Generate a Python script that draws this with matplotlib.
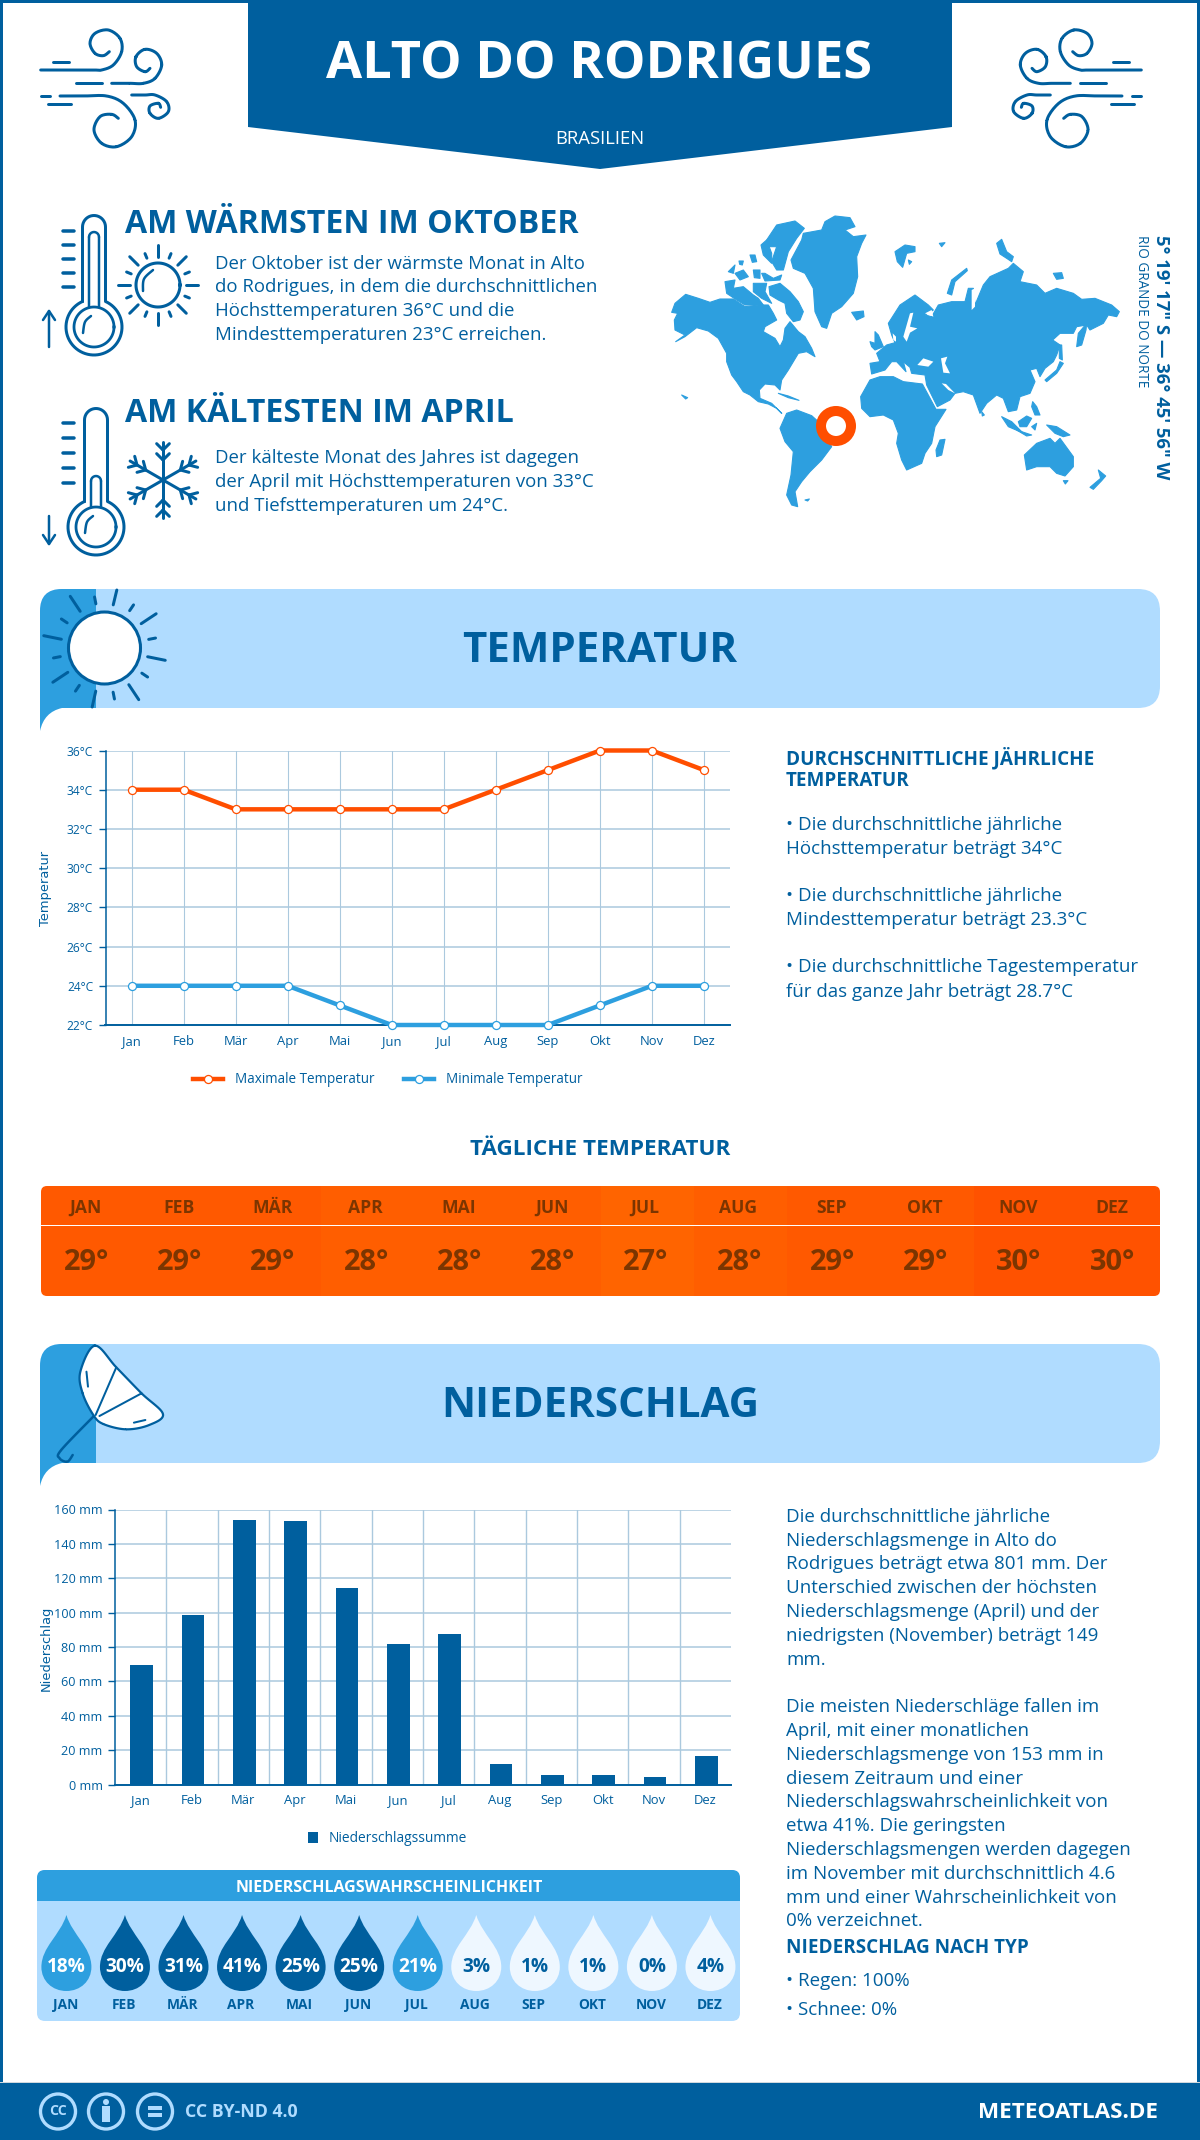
import numpy as np
import matplotlib
matplotlib.use('Agg')
from matplotlib import pyplot as plt
from matplotlib import patches as mp
from matplotlib.path import Path

plt.rcParams['font.family'] = ['Open Sans', 'DejaVu Sans']

W = 1200
H = 2140
BLUE = '#005f9e'
MID = '#2d9fdf'
LIGHT = '#b0dcff'
RED = '#ff4e00'
GRID = '#abc9de'
BROWN = '#7c3500'

months = ['Jan', 'Feb', 'Mär', 'Apr', 'Mai', 'Jun', 'Jul', 'Aug', 'Sep', 'Okt', 'Nov', 'Dez']
months_upper = ['JAN', 'FEB', 'MÄR', 'APR', 'MAI', 'JUN', 'JUL', 'AUG', 'SEP', 'OKT', 'NOV', 'DEZ']
temp_max = [34, 34, 33, 33, 33, 33, 33, 34, 35, 36, 36, 35]
temp_min = [24, 24, 24, 24, 23, 22, 22, 22, 22, 23, 24, 24]
temp_ticks = [22, 24, 26, 28, 30, 32, 34, 36]
daily_temp = [29, 29, 29, 28, 28, 28, 27, 28, 29, 29, 30, 30]
daily_colors = {27: '#ff6400', 28: '#ff5e00', 29: '#ff5900', 30: '#ff5200'}
precip = [69.4, 98.5, 153.8, 153.2, 114.2, 81.7, 87.5, 11.8, 5.4, 5.4, 4.6, 16.5]
precip_ticks = [0, 20, 40, 60, 80, 100, 120, 140, 160]
rain_prob = [18, 30, 31, 41, 25, 25, 21, 3, 1, 1, 0, 4]

warm_text = ['Der Oktober ist der wärmste Monat in Alto',
             'do Rodrigues, in dem die durchschnittlichen',
             'Höchsttemperaturen 36°C und die',
             'Mindesttemperaturen 23°C erreichen.']
cold_text = ['Der kälteste Monat des Jahres ist dagegen',
             'der April mit Höchsttemperaturen von 33°C',
             'und Tiefsttemperaturen um 24°C.']
temp_notes = [('• Die durchschnittliche jährliche', 823.5),
              ('Höchsttemperatur beträgt 34°C', 847),
              ('• Die durchschnittliche jährliche', 894.5),
              ('Mindesttemperatur beträgt 23.3°C', 918.5),
              ('• Die durchschnittliche Tagestemperatur', 965.5),
              ('für das ganze Jahr beträgt 28.7°C', 990)]
precip_notes = ['Die durchschnittliche jährliche',
                'Niederschlagsmenge in Alto do',
                'Rodrigues beträgt etwa 801 mm. Der',
                'Unterschied zwischen der höchsten',
                'Niederschlagsmenge (April) und der',
                'niedrigsten (November) beträgt 149',
                'mm.',
                '',
                'Die meisten Niederschläge fallen im',
                'April, mit einer monatlichen',
                'Niederschlagsmenge von 153 mm in',
                'diesem Zeitraum und einer',
                'Niederschlagswahrscheinlichkeit von',
                'etwa 41%. Die geringsten',
                'Niederschlagsmengen werden dagegen',
                'im November mit durchschnittlich 4.6',
                'mm und einer Wahrscheinlichkeit von',
                '0% verzeichnet.']

fig = plt.figure(figsize=(12, 21.4), dpi=100, facecolor='white')
bg = fig.add_axes([0, 0, 1, 1])
bg.set_xlim(0, W)
bg.set_ylim(H, 0)
bg.axis('off')


def fs(px):
    return px * 0.72


def label(x, y, s, px, color=BLUE, weight='normal', ha='left', **kw):
    # va center sits above the caps centre, push it down a bit
    bg.text(x, y + 0.1 * px, s, fontsize=fs(px), color=color, fontweight=weight, ha=ha, va='center', **kw)


def poly(points, color, edge='none', **kw):
    bg.add_patch(mp.Polygon(points, closed=True, facecolor=color, edgecolor=edge, **kw))


def stroke(points, lw=2.5, color=BLUE, **kw):
    pts = np.array(points, dtype=float)
    bg.plot(pts[:, 0], pts[:, 1], color=color, lw=lw * 0.72, solid_capstyle='round', **kw)


def spline(points, closed=False):
    # catmull-rom through the traced icon points
    p = np.array(points, dtype=float)
    if closed:
        p = np.vstack([p[-1], p, p[0], p[1]])
    else:
        p = np.vstack([p[0], p, p[-1]])
    out = []
    for i in range(1, len(p) - 2):
        for t in np.linspace(0, 1, 12):
            out.append(0.5 * (2 * p[i] + (p[i + 1] - p[i - 1]) * t
                              + (2 * p[i - 1] - 5 * p[i] + 4 * p[i + 1] - p[i + 2]) * t ** 2
                              + (3 * p[i] - p[i - 1] - 3 * p[i + 1] + p[i + 2]) * t ** 3))
    return out


def smooth(points, lw=2.5, color=BLUE):
    stroke(spline(points), lw, color)


def rounded(x0, y0, x1, y1, r, color):
    box = mp.FancyBboxPatch((x0, y0), x1 - x0, y1 - y0, boxstyle=f'round,pad=0,rounding_size={r}',
                            facecolor=color, edgecolor='none')
    bg.add_patch(box)
    return box


# frame, banner, footer
bg.add_patch(mp.Rectangle((0, 0), W, 3, color=BLUE, lw=0))
bg.add_patch(mp.Rectangle((0, 0), 3, H, color=BLUE, lw=0))
bg.add_patch(mp.Rectangle((W - 3, 0), 3, H, color=BLUE, lw=0))
poly([(248, 0), (952, 0), (952, 127), (600, 169), (248, 127)], BLUE)
label(599, 60, 'ALTO DO RODRIGUES', 52.4, 'white', 'bold', ha='center')
label(600, 137, 'BRASILIEN', 18.5, 'white', ha='center')
bg.add_patch(mp.Rectangle((0, 2082), W, 1.5, color='#d0d8de', lw=0))
bg.add_patch(mp.Rectangle((0, 2083), W, 57, color=BLUE, lw=0))


# wind icons, traced on the left one, mirrored for the right one
def wind(mirror):
    def conv(pts):
        res = [(30 + x / 3, 20 + y / 3) for x, y in pts]
        if mirror:
            res = [(1182 - x, y) for x, y in res]
        return res
    smooth(conv([(32, 150), (100, 150), (190, 150), (215, 150), (250, 135), (275, 95), (270, 55), (235, 30), (195, 40), (180, 70), (195, 100), (220, 107), (238, 95)]), 3)
    smooth(conv([(245, 190), (300, 190), (340, 190), (375, 175), (395, 135), (380, 100), (345, 88), (318, 110), (320, 140), (345, 155), (360, 145)]), 3)
    smooth(conv([(90, 228), (160, 228), (230, 228), (280, 250), (315, 300), (305, 350), (260, 380), (215, 370), (192, 330), (210, 290), (245, 283), (265, 295)]), 3)
    smooth(conv([(305, 225), (345, 225), (375, 225), (410, 245), (415, 275), (385, 295), (360, 280), (360, 258), (385, 250), (392, 262)]), 3)
    for seg in ([(68, 125), (118, 125)], [(138, 190), (215, 190)], [(32, 228), (60, 228)], [(55, 253), (123, 253)]):
        stroke(conv(seg), 3)


wind(False)
wind(True)


def thermometer(x, top, bulb_y, tick_ys, level_top):
    r = 28
    t = np.linspace(0, 2 * np.pi, 80)
    gap = np.arcsin(11.5 / r)
    a = np.linspace(-np.pi / 2 + gap, 1.5 * np.pi - gap, 60)
    outer = [(x - 11.5, bulb_y - r * np.cos(gap))] + [(x - 11.5, top + 11)]
    outer += [(x + 11.5 * np.cos(u), top + 11 + 11.5 * np.sin(u)) for u in np.linspace(np.pi, 2 * np.pi, 20)]
    outer += [(x + r * np.cos(u), bulb_y + r * np.sin(u)) for u in a]
    outer += [(x - 11.5, bulb_y - r * np.cos(gap))]
    stroke(outer, 3)
    bg.plot(x + 20 * np.cos(t), bulb_y + 20 * np.sin(t), color=BLUE, lw=2)
    stroke([(x - 5, bulb_y - 20), (x - 5, level_top + 5)], 2.5)
    stroke([(x + 5, bulb_y - 20), (x + 5, level_top + 5)], 2.5)
    stroke([(x + 5 * np.cos(u), level_top + 5 + 5 * np.sin(u)) for u in np.linspace(np.pi, 2 * np.pi, 10)], 2.5)
    smooth([(x - 11, bulb_y + 6), (x - 9, bulb_y - 5), (x - 3, bulb_y - 11)], 2.5)
    for ty in tick_ys:
        stroke([(63, ty), (74, ty)], 3.5)


thermometer(94, 216, 327, [231, 245, 259, 273, 287], 232)
stroke([(49, 347), (49, 311)], 2.5)
stroke([(43, 320), (49, 311), (55, 320)], 2.5)
thermometer(96, 409, 527, [423, 438, 453, 468, 483], 476)
stroke([(49, 516), (49, 544)], 2.5)
stroke([(43, 535), (49, 544), (55, 535)], 2.5)

# small sun
sun_t = np.linspace(0, 2 * np.pi, 80)
bg.plot(158 + 22 * np.cos(sun_t), 285 + 22 * np.sin(sun_t), color=BLUE, lw=2.2)
smooth([(143, 291), (144, 279), (153, 270)], 2.5)
for k in range(16):
    ang = k * np.pi / 8
    r1, r2 = (28, 40) if k % 2 == 0 else (29, 34)
    stroke([(158 + r1 * np.cos(ang), 285 + r1 * np.sin(ang)), (158 + r2 * np.cos(ang), 285 + r2 * np.sin(ang))], 3)

# snowflake
for k in range(6):
    ang = k * np.pi / 3 + np.pi / 2
    ca, sa = np.cos(ang), np.sin(ang)
    stroke([(163, 480), (163 + 38 * ca, 480 + 38 * sa)], 3)
    for d in (20, 30):
        for side in (-1, 1):
            b = ang + side * np.pi / 4
            stroke([(163 + d * ca, 480 + d * sa), (163 + d * ca + 9 * np.cos(b), 480 + d * sa + 9 * np.sin(b))], 3)

label(125, 221, 'AM WÄRMSTEN IM OKTOBER', 32.2, weight='bold')
label(125, 410, 'AM KÄLTESTEN IM APRIL', 32.2, weight='bold')
for line, y in zip(warm_text, [262, 285.5, 309.5, 333.5]):
    label(215, y, line, 18.7)
for line, y in zip(cold_text, [456.5, 480.5, 504]):
    label(215, y, line, 18.7)

# world map, traced by hand
west_land = [
    [(20, 322), (30, 295), (62, 268), (100, 280), (135, 292), (165, 282), (205, 282), (240, 305), (280, 300), (310, 300), (325, 325), (335, 345), (300, 365), (295, 380), (330, 400), (345, 425), (355, 405), (360, 370), (375, 350), (400, 380), (420, 395), (440, 430), (450, 455), (425, 440), (400, 445), (385, 470), (370, 495), (350, 525), (345, 555), (330, 540), (300, 537), (283, 555), (285, 580), (320, 595), (350, 625), (335, 610), (310, 597), (280, 590), (255, 570), (235, 560), (215, 530), (200, 510), (185, 470), (185, 445), (160, 400), (130, 378), (95, 368), (60, 395), (32, 410), (60, 390), (30, 375), (28, 345), (38, 325)],
    [(312, 245), (345, 235), (375, 260), (400, 290), (415, 320), (405, 345), (385, 350), (365, 325), (360, 295), (340, 285), (315, 270)],
    [(180, 230), (210, 225), (205, 250), (235, 245), (265, 270), (280, 280), (295, 300), (240, 300), (215, 285), (185, 265)],
    [(265, 235), (305, 235), (300, 260), (320, 295), (290, 280), (265, 260)],
    [(190, 200), (210, 180), (205, 205)],
    [(210, 205), (235, 195), (250, 215), (225, 225)],
    [(265, 195), (285, 195), (285, 220), (268, 218)],
    [(290, 205), (300, 205), (325, 220), (350, 210), (345, 225), (300, 228)],
    [(255, 150), (270, 150), (275, 170), (262, 172)],
    [(222, 168), (235, 168), (232, 180), (224, 178)],
    [(305, 105), (335, 60), (390, 48), (418, 70), (395, 100), (370, 140), (355, 195), (335, 195), (320, 170), (335, 125), (310, 125)],
    [(288, 120), (305, 105), (320, 145), (320, 175), (295, 150)],
    [(378, 165), (410, 105), (415, 85), (470, 75), (480, 50), (510, 33), (555, 38), (570, 65), (540, 75), (565, 95), (603, 90), (590, 115), (575, 155), (578, 215), (565, 265), (530, 305), (500, 325), (485, 370), (470, 365), (450, 320), (445, 250), (420, 205), (385, 190)],
    [(560, 322), (595, 318), (597, 335), (575, 345)],
    [(345, 670), (365, 625), (395, 615), (440, 632), (460, 650), (500, 725), (470, 765), (435, 800), (410, 830), (390, 860), (398, 905), (380, 900), (365, 870), (378, 810), (385, 740), (360, 710)],
    [(420, 885), (433, 882), (428, 888)],
    [(50, 570), (68, 578), (62, 582)],
    [(340, 565), (370, 573), (402, 586), (370, 578)],
]
east_land = [
    [(105, 65), (135, 45), (165, 50), (165, 65), (140, 70), (128, 112), (112, 95)],
    [(238, 40), (255, 38), (245, 50)],
    [(145, 90), (155, 95), (148, 103)],
    [(410, 40), (425, 28), (440, 65), (460, 80), (455, 95), (440, 85), (420, 72)],
    [(262, 190), (275, 150), (320, 115), (322, 122), (285, 155), (275, 195)],
    [(580, 130), (605, 128), (610, 145), (590, 148)],
    [(30, 400), (60, 395), (50, 370), (80, 345), (105, 338), (95, 315), (85, 280), (120, 225), (165, 195), (205, 225), (220, 240), (195, 255), (215, 260), (235, 225), (275, 215), (315, 215), (325, 175), (340, 175), (345, 225), (370, 165), (390, 140), (445, 115), (460, 100), (490, 125), (480, 155), (530, 165), (555, 190), (590, 175), (640, 190), (665, 208), (705, 205), (755, 225), (778, 245), (770, 260), (745, 255), (730, 280), (690, 300), (680, 285), (650, 290), (640, 310), (600, 310), (578, 330), (600, 345), (590, 375), (580, 395), (555, 415), (540, 440), (530, 415), (510, 420), (525, 455), (510, 490), (480, 500), (470, 540), (445, 545), (430, 505), (410, 495), (380, 520), (360, 550), (340, 495), (310, 485), (285, 490), (270, 510), (232, 530), (200, 465), (195, 435), (155, 430), (150, 412), (130, 395), (138, 425), (110, 395), (95, 395), (75, 420), (35, 432)],
    [(2, 500), (30, 450), (60, 440), (100, 440), (130, 455), (187, 462), (228, 538), (258, 538), (225, 590), (215, 640), (195, 670), (185, 700), (140, 720), (125, 690), (110, 640), (115, 610), (100, 570), (70, 555), (30, 560), (5, 535)],
    [(240, 630), (255, 628), (245, 675), (230, 680), (228, 660)],
    [(650, 350), (655, 310), (680, 280), (678, 300), (665, 345)],
    [(555, 450), (590, 420), (600, 395), (610, 400), (590, 430), (560, 455)],
    [(598, 345), (605, 345), (607, 390), (598, 385)],
    [(45, 305), (55, 315), (70, 350), (45, 360), (35, 350), (30, 335), (45, 340)],
    [(365, 545), (373, 555), (367, 558)],
    [(425, 560), (455, 575), (490, 610), (480, 605), (445, 590)],
    [(470, 600), (515, 615), (500, 618)],
    [(475, 575), (500, 558), (515, 565), (500, 590), (480, 590)],
    [(515, 590), (530, 580), (525, 600)],
    [(518, 515), (530, 530), (540, 555), (525, 555), (515, 530)],
    [(560, 585), (590, 590), (630, 615), (610, 620), (585, 610)],
    [(493, 675), (530, 640), (570, 625), (585, 640), (600, 625), (640, 680), (640, 710), (615, 738), (590, 730), (570, 710), (530, 710), (500, 720)],
    [(610, 752), (624, 752), (616, 762)],
    [(715, 720), (737, 738), (725, 752), (700, 778), (690, 772), (722, 745)],
]
east_water = [
    [(172, 405), (190, 385), (220, 395), (205, 410)],
    [(243, 385), (262, 380), (255, 400), (270, 430), (250, 428)],
    [(130, 320), (150, 250), (160, 248), (150, 290), (172, 295), (150, 308), (140, 335)],
    [(195, 250), (215, 240), (220, 260)],
    [(245, 460), (258, 462), (285, 490), (265, 480)],
    [(335, 180), (345, 175), (345, 230), (335, 240)],
    [(98, 310), (108, 320), (108, 335), (100, 330)],
]
for shape in west_land:
    poly([(665 + x / 3, 205 + y / 3) for x, y in shape], MID, edge=MID, lw=0.8, joinstyle='round')
for shape in east_land:
    poly([(860 + x / 3, 230 + y / 3) for x, y in shape], MID, edge=MID, lw=0.8, joinstyle='round')
for shape in east_water:
    poly([(860 + x / 3, 230 + y / 3) for x, y in shape], 'white')
bg.add_patch(mp.Circle((836, 426), 15, facecolor='white', edgecolor=RED, lw=10 * 0.72))
bg.text(1161, 235, '5° 19\' 17" S — 36° 45\' 56" W', fontsize=fs(18.5), color=BLUE, fontweight='bold',
        rotation=270, ha='center', va='top')
bg.text(1141, 235, 'RIO GRANDE DO NORTE', fontsize=fs(13.5), color=BLUE, rotation=270, ha='center', va='top')


def section_header(top, bottom, title):
    rounded(40, top, 1160, bottom, 22, LIGHT)
    verts = [(96, top), (62, top), (40, top), (40, top + 22), (40, bottom + 23), (44, bottom + 4), (62, bottom), (96, bottom), (96, top)]
    codes = [Path.MOVETO, Path.LINETO, Path.CURVE3, Path.CURVE3, Path.LINETO, Path.CURVE3, Path.CURVE3, Path.LINETO, Path.CLOSEPOLY]
    bg.add_patch(mp.PathPatch(Path(verts, codes), facecolor=MID, edgecolor='none'))
    label(600, (top + bottom) / 2 - 1, title, 42, weight='bold', ha='center')


section_header(589, 708, 'TEMPERATUR')
section_header(1344, 1463, 'NIEDERSCHLAG')

# header sun
bg.add_patch(mp.Circle((104.5, 648), 36, facecolor='white', edgecolor=BLUE, lw=2.2, zorder=3))
smooth([(83, 626), (90, 621), (101, 618)], 2.5)
smooth([(101, 679), (112, 678), (122, 673)], 2.5)
for k in range(16):
    ang = k * np.pi / 8 + 0.2
    r1, r2 = (44, 62) if k % 2 == 0 else (45, 52)
    x1, y1 = 104.5 + r1 * np.cos(ang), 648 + r1 * np.sin(ang)
    x2, y2 = 104.5 + r2 * np.cos(ang), 648 + r2 * np.sin(ang)
    stroke([(x1, y1), (x2, np.clip(y2, 590, 707))], 3)

# umbrella
u_pts = [(124, 677), (152, 742), (185, 820), (213, 882), (195, 915), (165, 928), (135, 912), (122, 885), (108, 820), (105, 755)]
u_real = spline([(x / 1.307, 1120 + y / 3) for x, y in u_pts], closed=True)
poly(u_real, 'white', zorder=3)
bg.plot(*zip(*(u_real + u_real[:1])), color=BLUE, lw=1.6, zorder=4)
stem = [(124, 885), (80, 990), (78, 1015), (88, 1025), (95, 1005)]
smooth([(x / 1.307, 1120 + y / 3) for x, y in stem], 2.5)
for seg in ([(152, 742), (125, 885)], [(185, 820), (130, 888)], [(113, 755), (115, 800)], [(175, 908), (190, 900)]):
    stroke([(x / 1.307, 1120 + y / 3) for x, y in seg], 2, zorder=4)

# daily temperature table
label(600, 1147, 'TÄGLICHE TEMPERATUR', 22.5, weight='bold', ha='center')
table_l, table_r = 41, 1160
col = (table_r - table_l) / 12
table_clip = rounded(table_l, 1186, table_r, 1296, 6, 'none')
for i, val in enumerate(daily_temp):
    cell = mp.Rectangle((table_l + i * col, 1186), col + 0.5, 110, color=daily_colors[val], lw=0)
    bg.add_patch(cell)
    cell.set_clip_path(table_clip)
    cx = table_l + (i + 0.5) * col - 2
    label(cx, 1206, months_upper[i], 17.5, BROWN, 'bold', ha='center')
    label(cx + 1, 1260, f'{val}°', 29, BROWN, 'bold', ha='center')
bg.add_patch(mp.Rectangle((table_l, 1224.5), table_r - table_l, 1.6, color='white', lw=0))


def chart_axes(l, t, r, b):
    ax = fig.add_axes([l / W, 1 - b / H, (r - l) / W, (b - t) / H], facecolor='none')
    ax.spines['top'].set_visible(False)
    ax.spines['right'].set_visible(False)
    ax.spines['left'].set_color(BLUE)
    ax.spines['bottom'].set_color(BLUE)
    ax.spines['left'].set_linewidth(1.1)
    ax.spines['bottom'].set_linewidth(1.4)
    ax.set_axisbelow(True)
    ax.set_xlim(-0.5, 11.5)
    ax.grid(True, axis='y', color=GRID, lw=1.1)
    ax.tick_params(axis='y', length=5, width=1, color=BLUE, labelcolor=BLUE, labelsize=fs(12), pad=4)
    ax.tick_params(axis='x', length=0, labelcolor=BLUE, labelsize=fs(13), pad=7)
    return ax


# temperature chart
ax1 = chart_axes(105.5, 750.5, 730, 1025)
x = np.arange(12)
ax1.set_ylim(22, 36)
ax1.set_yticks(temp_ticks, [f'{v}°C' for v in temp_ticks])
ax1.set_xticks(x, months)
ax1.grid(True, axis='x', color=GRID, lw=0.8)
ax1.plot(x, temp_max, color=RED, lw=3.2, marker='o', ms=5.8, mfc='white', mec=RED, mew=0.9, clip_on=False,
         label='Maximale Temperatur', zorder=5)
ax1.plot(x, temp_min, color=MID, lw=3.2, marker='o', ms=5.8, mfc='white', mec=MID, mew=0.9, clip_on=False,
         label='Minimale Temperatur', zorder=5)
ax1.legend(loc='center', bbox_to_anchor=(0.452, -0.2), ncol=2, frameon=False, fontsize=fs(13.5), labelcolor=BLUE,
           handlelength=2.2, columnspacing=2.2, handletextpad=0.9)
bg.text(45, 888, 'Temperatur', fontsize=fs(13), color=BLUE, rotation=90, ha='center', va='center',
        family='DejaVu Sans')

# precipitation chart
ax2 = chart_axes(115, 1509.5, 731, 1784.5)
ax2.tick_params(axis='y', labelsize=fs(12.6))
ax2.set_ylim(0, 160)
ax2.set_yticks(precip_ticks, [f'{v} mm' for v in precip_ticks])
ax2.set_xticks(x, months)
ax2.set_xticks(x[:-1] + 0.5, minor=True)
ax2.tick_params(axis='x', which='minor', length=0)
ax2.grid(True, axis='x', which='minor', color=GRID, lw=1)
ax2.bar(x + 0.02, precip, width=0.44, color=BLUE, label='Niederschlagssumme', zorder=3)
ax2.legend(loc='center', bbox_to_anchor=(0.443, -0.197), frameon=False, fontsize=fs(13.7), labelcolor=BLUE,
           handlelength=0.7, handleheight=0.9, handletextpad=0.8)
bg.text(46, 1648, 'Niederschlag', fontsize=fs(13), color=BLUE, rotation=90, ha='center', va='center',
        family='DejaVu Sans')

# right hand texts
label(786, 756, 'DURCHSCHNITTLICHE JÄHRLICHE', 18.9, weight='bold')
label(786, 779, 'TEMPERATUR', 18.9, weight='bold')
for line, y in temp_notes:
    label(786, y, line, 18.8)
for i, line in enumerate(precip_notes):
    label(786, 1515 + i * 23.8, line, 18.8)
label(786, 1946, 'NIEDERSCHLAG NACH TYP', 18.9, weight='bold')
label(786, 1979.5, '• Regen: 100%', 18.8)
label(786, 2008.5, '• Schnee: 0%', 18.8)

# rain probability panel
rounded(37, 1870, 740, 2021, 8, LIGHT)
rounded(37, 1870, 740, 1905, 8, MID)
bg.add_patch(mp.Rectangle((37, 1890), 703, 11, color=MID, lw=0))
bg.add_patch(mp.Rectangle((37, 1901), 703, 6, color=LIGHT, lw=0))
label(389, 1886, 'NIEDERSCHLAGSWAHRSCHEINLICHKEIT', 16, 'white', 'bold', ha='center')
drop_codes = [Path.MOVETO] + [Path.CURVE4] * 12 + [Path.CLOSEPOLY]
for i, pct in enumerate(rain_prob):
    cx = 66.4 + i * 58.55
    t = 1915
    verts = [(cx, t), (cx + 6, t + 20), (cx + 25, t + 32), (cx + 25, t + 52),
             (cx + 25, t + 66), (cx + 14, t + 76), (cx, t + 76),
             (cx - 14, t + 76), (cx - 25, t + 66), (cx - 25, t + 52),
             (cx - 25, t + 32), (cx - 6, t + 20), (cx, t), (cx, t)]
    if pct >= 25:
        face, txt = BLUE, 'white'
    elif pct >= 10:
        face, txt = MID, 'white'
    else:
        face, txt = '#eef7ff', BLUE
    bg.add_patch(mp.PathPatch(Path(verts, drop_codes), facecolor=face, edgecolor='none'))
    label(cx, 1965, f'{pct}%', 19, txt, 'bold', ha='center')
    label(cx - 1, 2003.5, months_upper[i], 13.8, BLUE, 'bold', ha='center')

# footer
for cx in (58, 106, 155):
    bg.add_patch(mp.Circle((cx, 2111.5), 17.5, facecolor='none', edgecolor=LIGHT, lw=2.4))
label(58, 2110, 'CC', 14, LIGHT, 'bold', ha='center')
bg.add_patch(mp.Circle((106, 2102), 3, color=LIGHT, lw=0))
bg.add_patch(mp.Rectangle((102, 2106), 8, 16, color=LIGHT, lw=0))
bg.add_patch(mp.Rectangle((148, 2106), 14, 3.5, color=LIGHT, lw=0))
bg.add_patch(mp.Rectangle((148, 2113), 14, 3.5, color=LIGHT, lw=0))
label(185, 2110.5, 'CC BY-ND 4.0', 17.8, LIGHT, 'bold')
label(1158, 2110.5, 'METEOATLAS.DE', 22.5, 'white', 'bold', ha='right')

fig.savefig('out.png', dpi=100)
